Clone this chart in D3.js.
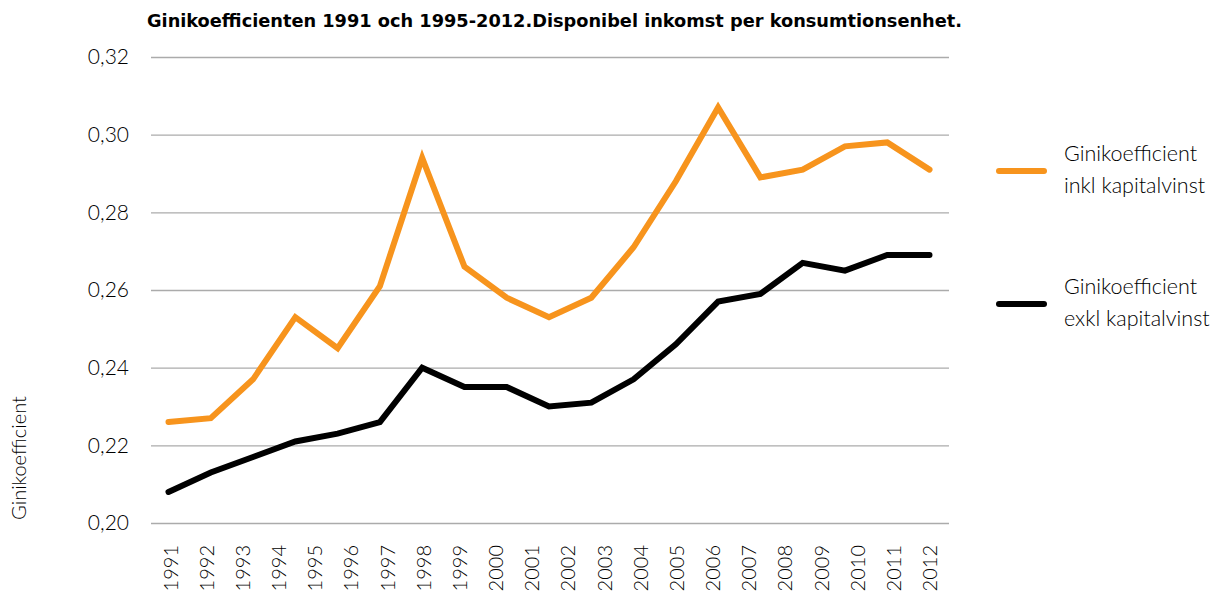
<!DOCTYPE html>
<html><head><meta charset="utf-8">
<script src="https://cdn.jsdelivr.net/npm/d3@7"></script>
<style>body{margin:0;background:#fff}svg{display:block}</style>
</head><body>
<svg id="c" width="1226" height="597"></svg>
<script>
const title = "Ginikoefficienten 1991 och 1995-2012.Disponibel inkomst per konsumtionsenhet.";
const yAxisTitle = "Ginikoefficient";
// axis labels (22, as in the reference)
const tickLabels = ["1991","1992","1993","1994","1995","1996","1997","1998","1999","2000","2001","2002","2003","2004","2005","2006","2007","2008","2009","2010","2011","2012"];
// data years (1991 and 1995-2012): 19 points
const dataYears = ["1991","1995","1996","1997","1998","1999","2000","2001","2002","2003","2004","2005","2006","2007","2008","2009","2010","2011","2012"];
const inklValues = [0.226,0.227,0.237,0.253,0.245,0.261,0.294,0.266,0.258,0.253,0.258,0.271,0.288,0.307,0.289,0.291,0.297,0.298,0.291];
const exklValues = [0.208,0.213,0.217,0.221,0.223,0.226,0.240,0.235,0.235,0.230,0.231,0.237,0.246,0.257,0.259,0.267,0.265,0.269,0.269];
const yTicks = [0.20,0.22,0.24,0.26,0.28,0.30,0.32];
const seriesNames = [["Ginikoefficient","inkl kapitalvinst"],["Ginikoefficient","exkl kapitalvinst"]];
const colors = ["#F7941D","#000000"];

const svg = d3.select("#c");
const font = "Lato, 'Open Sans', 'DejaVu Sans', sans-serif";
const txt = "#000";
const x0 = 168.5, x1 = 929.5;
const y = d3.scaleLinear().domain([0.20,0.32]).range([523,57]);
const xData = d3.scalePoint().domain(dataYears).range([x0,x1]);
const xLab = d3.scalePoint().domain(tickLabels).range([x0+1.5,x1]);

// gridlines via axis
const yAxis = d3.axisLeft(y).tickValues(yTicks).tickSize(-(949-151)).tickPadding(22)
  .tickFormat(d => d3.format(".2f")(d).replace(".", ","));
const gy = svg.append("g").attr("transform","translate(151,0)").call(yAxis);
gy.select(".domain").remove();
gy.selectAll(".tick line").attr("stroke","#ababab").attr("stroke-width",1.3);
gy.selectAll(".tick text").attr("fill",txt).style("font-family",font).style("font-weight",300).style("font-size","21px");

// x labels
const xAxis = d3.axisBottom(xLab).tickSize(0).tickPadding(0);
const gx = svg.append("g").attr("transform","translate(0,545)").call(xAxis);
gx.select(".domain").remove();
gx.selectAll(".tick text").attr("fill",txt).style("font-family",font).style("font-weight",300).style("font-size","20px")
  .attr("text-anchor","end").attr("dy",null).attr("y",0).attr("x",0)
  .attr("transform","rotate(-90) translate(0,7)");

// lines
const line = d3.line().x((d,i)=>xData(dataYears[i])).y(d=>y(d));
[inklValues, exklValues].forEach((vals,k)=>{
  svg.append("path").datum(vals).attr("d",line).attr("fill","none")
    .attr("stroke",colors[k]).attr("stroke-width",6).attr("stroke-linejoin","miter").attr("stroke-linecap","round");
});

// title
svg.append("text").attr("x",147).attr("y",27).text(title)
  .attr("textLength",815).attr("lengthAdjust","spacingAndGlyphs")
  .style("font-family","'DejaVu Sans Condensed','Liberation Sans Narrow','DejaVu Sans',sans-serif")
  .style("font-weight","bold").style("font-size","18px").attr("fill","#000");

// y axis title
svg.append("text").attr("transform","translate(26,458) rotate(-90)").attr("text-anchor","middle")
  .text(yAxisTitle).style("font-family",font).style("font-weight",300).style("font-size","20px").attr("fill",txt);

// legend
const legY = [171,304];
seriesNames.forEach((lines,k)=>{
  svg.append("line").attr("x1",999).attr("x2",1044).attr("y1",legY[k]).attr("y2",legY[k])
    .attr("stroke",colors[k]).attr("stroke-width",6).attr("stroke-linecap","round");
  lines.forEach((t,j)=>{
    svg.append("text").attr("x",1064).attr("y",legY[k]-10+j*32).text(t)
      .style("font-family",font).style("font-weight",300).style("font-size","21.5px").attr("fill",txt);
  });
});
</script>
</body></html>
